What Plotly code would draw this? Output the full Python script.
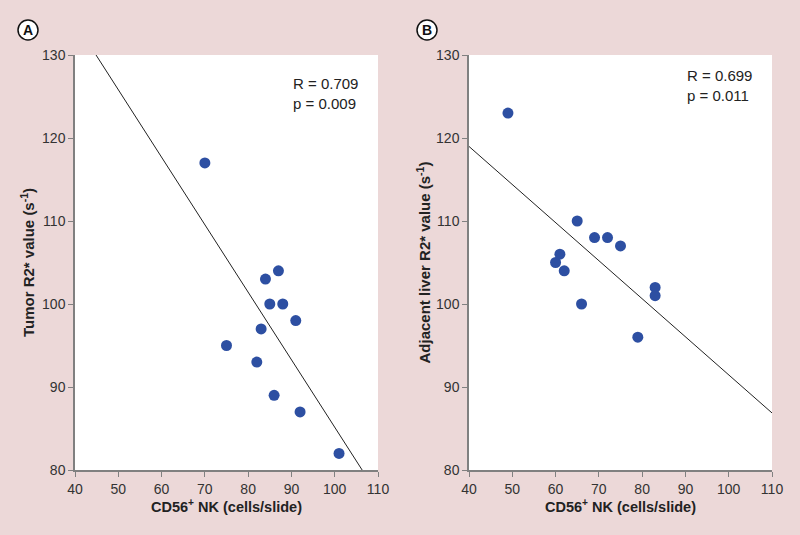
import numpy as np
import plotly.graph_objects as go

# Panel A: tumor
nk_a = [70, 75, 82, 83, 84, 85, 86, 87, 88, 91, 92, 101]
r2_a = [117, 95, 93, 97, 103, 100, 89, 104, 100, 98, 87, 82]
# Panel B: adjacent liver
nk_b = [49, 60, 61, 62, 65, 66, 69, 72, 75, 79, 83, 83]
r2_b = [123, 105, 106, 104, 110, 100, 108, 108, 107, 96, 102, 101]

x_ticks = [40, 50, 60, 70, 80, 90, 100, 110]
y_ticks = [80, 90, 100, 110, 120, 130]
stats_a = "R = 0.709<br>p = 0.009"
stats_b = "R = 0.699<br>p = 0.011"

BG = "#ecd8d8"
DOT = "#2d4fa2"
AX = "#808080"
FONT = "Liberation Sans, Arial, sans-serif"

fig = go.Figure()

def fit_line(x, y):
    m, b = np.polyfit(x, y, 1)
    xs = np.array([40, 110], dtype=float)
    return xs, m * xs + b

for i, (xd, yd) in enumerate([(nk_a, r2_a), (nk_b, r2_b)]):
    xa = "x" if i == 0 else "x2"
    ya = "y" if i == 0 else "y2"
    lx, ly = fit_line(xd, yd)
    fig.add_trace(go.Scatter(x=lx, y=ly, mode="lines", line=dict(color="#222", width=1),
                             xaxis=xa, yaxis=ya, showlegend=False, hoverinfo="skip"))
    fig.add_trace(go.Scatter(x=xd, y=yd, mode="markers", marker=dict(color=DOT, size=11),
                             xaxis=xa, yaxis=ya, showlegend=False))

ytop = 1 - 55 / 535
ybot = 1 - 470 / 535

axis_common = dict(showline=True, linecolor=AX, linewidth=1.5, ticks="outside", ticklen=5,
                   tickcolor=AX, tickwidth=1, showgrid=False, zeroline=False, automargin=False,
                   tickfont=dict(size=14, color="#333", family=FONT))
xtitle_font = dict(size=14.5, color="#222", family=FONT)
ytitle_font = dict(size=15, color="#222", family=FONT)

fig.update_layout(
    width=800, height=535,
    paper_bgcolor=BG, plot_bgcolor="white",
    margin=dict(l=0, r=0, t=0, b=0),
    font=dict(family=FONT),
    xaxis=dict(domain=[75 / 800, 378 / 800], range=[40, 110], tickvals=x_ticks, anchor="y",
               title=dict(text="<b>CD56<sup>+</sup> NK (cells/slide)</b>", font=xtitle_font, standoff=5),
               **axis_common),
    yaxis=dict(domain=[ybot, ytop], range=[80, 130], tickvals=y_ticks, anchor="x",
               title=dict(text="<b>Tumor R2* value (s<sup>-1</sup>)</b>", font=ytitle_font, standoff=4),
               **axis_common),
    xaxis2=dict(domain=[469 / 800, 772 / 800], range=[40, 110], tickvals=x_ticks, anchor="y2",
                title=dict(text="<b>CD56<sup>+</sup> NK (cells/slide)</b>", font=xtitle_font, standoff=5),
                **axis_common),
    yaxis2=dict(domain=[ybot, ytop], range=[80, 130], tickvals=y_ticks, anchor="x2",
                title=dict(text="<b>Adjacent liver R2* value (s<sup>-1</sup>)</b>", font=ytitle_font, standoff=2),
                **axis_common),
)

fig.add_annotation(xref="x domain", yref="y domain", x=0.94, y=0.957, xanchor="right", yanchor="top",
                   text=stats_a, showarrow=False, align="left",
                   font=dict(size=15, color="#222", family=FONT))
fig.add_annotation(xref="x2 domain", yref="y2 domain", x=0.94, y=0.977, xanchor="right", yanchor="top",
                   text=stats_b, showarrow=False, align="left",
                   font=dict(size=15, color="#222", family=FONT))

for cx, lab in [(28, "A"), (427, "B")]:
    fig.add_shape(type="circle", xref="paper", yref="paper",
                  x0=(cx - 10) / 800, x1=(cx + 10) / 800,
                  y0=1 - 40 / 535, y1=1 - 20 / 535,
                  line=dict(color="#111", width=1.5), fillcolor="white")
    fig.add_annotation(xref="paper", yref="paper", x=cx / 800, y=1 - 30 / 535,
                       text="<b>" + lab + "</b>", showarrow=False, xanchor="center", yanchor="middle",
                       font=dict(size=14, color="#111", family=FONT))

fig.write_html("out.html", config={"displayModeBar": False},
               post_script="document.body.style.margin='0';document.body.style.background='" + BG + "';")
